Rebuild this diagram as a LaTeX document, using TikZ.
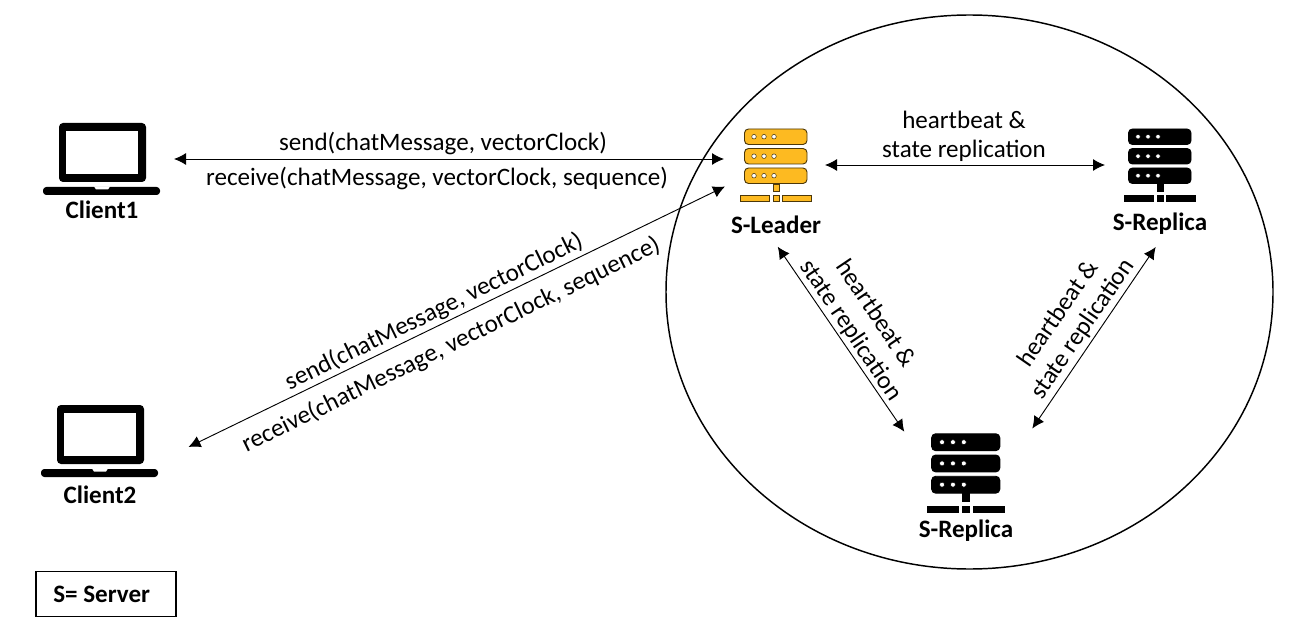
\documentclass[tikz,border=0pt]{standalone}
\usepackage{fontspec}
\setmainfont{Carlito}
\usetikzlibrary{arrows.meta}
\definecolor{gold}{HTML}{FDBA21}
\newcommand{\txtsz}{\fontsize{18.8}{22}\selectfont}
\newcommand{\lblsz}{\fontsize{18.8}{22}\selectfont\bfseries}
\tikzset{
  x=0.75pt,y=-0.75pt,
  conn/.style={draw=black,line width=0.7pt,{Latex[length=9pt,width=9pt]}-{Latex[length=9pt,width=9pt]}},
  msg/.style={inner sep=0pt,font=\txtsz},
  lbl/.style={inner sep=0pt,font=\lblsz},
  pics/laptop/.style={code={
    \fill[black,rounded corners=3pt] (59,123) rectangle (146,182);
    \fill[white] (66,131) rectangle (138,174);
    \fill[black,rounded corners=2.5pt] (43,187) rectangle (160,195);
    \fill[white] (94,186.5) -- (110,186.5) -- (108,189.5) -- (96,189.5) -- cycle;
  }},
  pics/server/.style n args={2}{code={
    \foreach \yy in {-36,-16.5,3}{
      \filldraw[fill=#1,draw=#2,line width=0.7pt,rounded corners=3pt] (-31.5,\yy) rectangle (31,\yy+15.5);
      \foreach \xx in {-22,-12,-2}{
        \fill[white,draw=#2,line width=0.4pt] (\xx,\yy+7.7) circle[radius=2.3];
      }
    }
    \filldraw[fill=#1,draw=#2,line width=0.5pt] (-3,19) rectangle (3,26);
    \filldraw[fill=#1,draw=#2,line width=0.5pt] (-35.5,30.5) rectangle (-7,36);
    \filldraw[fill=#1,draw=#2,line width=0.5pt] (-3,30.5) rectangle (3,36);
    \filldraw[fill=#1,draw=#2,line width=0.5pt] (6.5,30.5) rectangle (35,36);
  }}
}
\begin{document}
\begin{tikzpicture}
\useasboundingbox (0,0) rectangle (1296,638);
\fill[white] (0,0) rectangle (1296,638);
% server group ellipse
\draw[black,line width=1.1pt] (969.5,292) ellipse [x radius=303.5,y radius=277];
% icons
\pic at (0,0) {laptop};
\pic at (-2,282) {laptop};
\pic at (776,165) {server={gold}{black!70!gold}};
\pic at (1160,165) {server={black}{black}};
\pic[scale=1.09] at (966,473) {server={black}{black}};
% labels
\node[lbl] (c1) at (102,210) {Client1};
\node[lbl] (c2) at (100,495) {Client2};
\node[lbl] (lead) at (776,225) {S-Leader};
\node[lbl] (rep1) at (1160,224) {S-Replica};
\node[lbl] (rep2) at (966,531) {S-Replica};
\node[draw=black,line width=1.1pt,minimum width=105pt,minimum height=34pt,inner sep=0pt,font=\lblsz] (leg) at (106,594) {\makebox[105pt][l]{\hspace{13pt}S= Server}};
% connector ends
\coordinate (c1e) at (174,159);
\coordinate (l1e) at (724,159);
\coordinate (c2e) at (188.5,447);
\coordinate (l2e) at (725,186.5);
\coordinate (l3e) at (825,165);
\coordinate (r1a) at (1105,165);
\coordinate (l4e) at (777.7,246.7);
\coordinate (r2a) at (904.3,431.7);
\coordinate (r1b) at (1155.7,247);
\coordinate (r2b) at (1032.3,428.5);
\draw[conn] (c1e) -- (l1e);
\draw[conn] (c2e) -- (l2e);
\draw[conn] (l3e) -- (r1a);
\draw[conn] (l4e) -- (r2a);
\draw[conn] (r1b) -- (r2b);
% messages
\node[msg] (m1) at (443,143) {send(chatMessage, vectorClock)};
\node[msg] (m2) at (437,178) {receive(chatMessage, vectorClock, sequence)};
\node[msg,rotate=26] (m3) at (434,312) {send(chatMessage, vectorClock)};
\node[msg,rotate=26] (m4) at (451,345) {receive(chatMessage, vectorClock, sequence)};
\node[msg] (h1a) at (964,120) {heartbeat \&};
\node[msg] (h1b) at (964,151) {state replication};
\node[msg,rotate=-56] (h2a) at (877,313) {heartbeat \&};
\node[msg,rotate=-56] (h2b) at (850.5,330.5) {state replication};
\node[msg,rotate=55.5] (h3a) at (1057,313) {heartbeat \&};
\node[msg,rotate=55.5] (h3b) at (1083,329) {state replication};
\end{tikzpicture}
\end{document}
